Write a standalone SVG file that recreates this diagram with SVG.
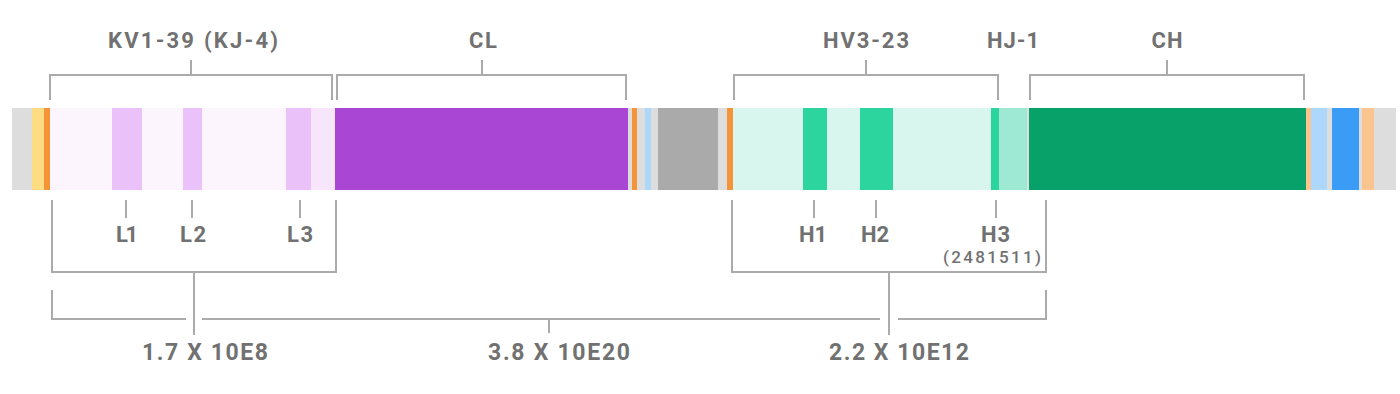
<svg xmlns="http://www.w3.org/2000/svg" width="1400" height="394" viewBox="0 0 1400 394">
<style>
.t{font-family:Roboto,"Liberation Sans",sans-serif;font-weight:700;fill:#717171;font-size:22px}
.n{font-size:23px}
.s{font-weight:500;font-size:17px}
.br{fill:none;stroke:#ababab;stroke-width:2}
</style>
<rect width="1400" height="394" fill="#ffffff"/>
<g id="bar">
<rect x="12" y="108" width="1384" height="82" fill="#dddddd"/>
<rect x="32" y="108" width="12" height="82" fill="#fedc82"/>
<rect x="44" y="108" width="6" height="82" fill="#f59338"/>
<rect x="50" y="108" width="62" height="82" fill="#fcf5fd"/>
<rect x="112" y="108" width="30" height="82" fill="#ebc1fa"/>
<rect x="142" y="108" width="41" height="82" fill="#fcf5fd"/>
<rect x="183" y="108" width="19" height="82" fill="#ebc1fa"/>
<rect x="202" y="108" width="84" height="82" fill="#fcf5fd"/>
<rect x="286" y="108" width="25" height="82" fill="#ebc1fa"/>
<rect x="311" y="108" width="24" height="82" fill="#f7e5fc"/>
<rect x="335" y="108" width="293" height="82" fill="#a946d3"/>
<rect x="632" y="108" width="5" height="82" fill="#f59338"/>
<rect x="645" y="108" width="6" height="82" fill="#add8fc"/>
<rect x="658" y="108" width="60" height="82" fill="#aaaaaa"/>
<rect x="727" y="108" width="6" height="82" fill="#f59338"/>
<rect x="733" y="108" width="70" height="82" fill="#d8f6ee"/>
<rect x="803" y="108" width="24" height="82" fill="#2cd59d"/>
<rect x="827" y="108" width="33" height="82" fill="#d8f6ee"/>
<rect x="860" y="108" width="33" height="82" fill="#2cd59d"/>
<rect x="893" y="108" width="98" height="82" fill="#d8f6ee"/>
<rect x="991" y="108" width="8" height="82" fill="#2cd59d"/>
<rect x="999" y="108" width="28" height="82" fill="#9ee9d4"/>
<rect x="1029" y="108" width="277" height="82" fill="#07a169"/>
<rect x="1306" y="108" width="5" height="82" fill="#fcc590"/>
<rect x="1311" y="108" width="16" height="82" fill="#add8fc"/>
<rect x="1332" y="108" width="27" height="82" fill="#3a9cf4"/>
<rect x="1362" y="108" width="12" height="82" fill="#fcc590"/>
</g>
<g id="connectors" class="br">
<path d="M50 100V75H332V100M191 60V75"/>
<path d="M337 100V75H626V100M482 60V75"/>
<path d="M734 100V75H998V100M866 60V75"/>
<path d="M1030 100V75H1304V100M1167 60V75"/>
<path d="M126 200V218M192 200V218M300 200V218"/>
<path d="M814 200V218M876 200V218M996 200V218"/>
<path d="M52 200V272H336V200M194 272V335"/>
<path d="M732 200V272H1046V200M889 272V335"/>
<path d="M52 290V319H186M202 319H880M898 319H1046V290M549 319V333"/>
</g>
<g id="label-kv"><text class="t" x="193" y="48" text-anchor="middle" textLength="170" lengthAdjust="spacing">KV1-39 (KJ-4)</text></g>
<g id="label-cl"><text class="t" x="483" y="48" text-anchor="middle" textLength="28" lengthAdjust="spacing">CL</text></g>
<g id="label-hv"><text class="t" x="866" y="48" text-anchor="middle" textLength="86" lengthAdjust="spacing">HV3-23</text></g>
<g id="label-hj"><text class="t" x="1013" y="48" text-anchor="middle" textLength="52" lengthAdjust="spacing">HJ-1</text></g>
<g id="label-ch"><text class="t" x="1167" y="48" text-anchor="middle" textLength="31" lengthAdjust="spacing">CH</text></g>
<g id="label-l1"><text class="t" x="127" y="242" text-anchor="middle" textLength="22" lengthAdjust="spacing">L1</text></g>
<g id="label-l2"><text class="t" x="193" y="242" text-anchor="middle" textLength="26" lengthAdjust="spacing">L2</text></g>
<g id="label-l3"><text class="t" x="300" y="242" text-anchor="middle" textLength="26" lengthAdjust="spacing">L3</text></g>
<g id="label-h1"><text class="t" x="813" y="242" text-anchor="middle" textLength="28" lengthAdjust="spacing">H1</text></g>
<g id="label-h2"><text class="t" x="875" y="242" text-anchor="middle" textLength="28" lengthAdjust="spacing">H2</text></g>
<g id="label-h3"><text class="t" x="995.5" y="242" text-anchor="middle" textLength="29" lengthAdjust="spacing">H3</text>
<text class="t s" x="992" y="263" text-anchor="middle" textLength="98" lengthAdjust="spacing">(2481511)</text></g>
<g id="label-n1"><text class="t n" x="205" y="360" text-anchor="middle" textLength="126" lengthAdjust="spacing">1.7 X 10E8</text></g>
<g id="label-n2"><text class="t n" x="559" y="360" text-anchor="middle" textLength="142" lengthAdjust="spacing">3.8 X 10E20</text></g>
<g id="label-n3"><text class="t n" x="899" y="360" text-anchor="middle" textLength="140" lengthAdjust="spacing">2.2 X 10E12</text></g>
</svg>
